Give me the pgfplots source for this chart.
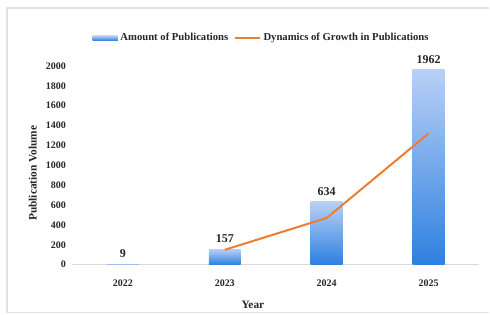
\documentclass[border=0pt]{standalone}
\usepackage{pgfplots}
\pgfplotsset{compat=1.18}
\usepackage{fontspec}
\setmainfont{Liberation Serif}
\definecolor{bartop}{RGB}{185,208,245}
\definecolor{barbot}{RGB}{45,128,224}
\definecolor{lineor}{RGB}{237,125,49}
\definecolor{axgray}{RGB}{217,217,217}
\definecolor{framegray}{RGB}{225,225,225}
\begin{document}
\begin{tikzpicture}
\fill[white] (-54pt,-37.5pt) rectangle (313.5pt,198.75pt);
\draw[framegray, line width=0.8pt] (313.5pt,192.75pt) -- (-48.75pt,192.75pt) -- (-48.75pt,-36pt) -- (313.5pt,-36pt);
\begin{axis}[
  at={(0pt,0pt)}, anchor=south west,
  scale only axis, width=306pt, height=149.25pt,
  xmin=-0.5, xmax=3.5, ymin=0, ymax=2000,
  xtick={0,1,2,3}, xticklabels={2022,2023,2024,2025},
  ytick={0,200,...,2000},
  axis x line*=bottom, axis y line*=left,
  x axis line style={axgray, line width=0.8pt, -},
  y axis line style={draw=none},
  major tick length=0pt,
  clip=false,
  /pgf/number format/1000 sep={},
  /pgf/number format/assume math mode=true,
  ticklabel style={font=\bfseries\fontsize{7.5}{9}\selectfont, text=black!85},
  xticklabel style={yshift=-8pt},
  yticklabel style={xshift=-1pt},
  ylabel={Publication Volume},
  xlabel={Year},
  label style={font=\bfseries\fontsize{8.5}{10}\selectfont, text=black!85},
  ylabel style={at={(axis description cs:-0.096,0.46)}, anchor=center},
  xlabel style={at={(axis description cs:0.444,-0.2)}, anchor=center},
  legend style={at={(axis description cs:0.466,1.14)}, anchor=center, draw=none, fill=none,
    legend columns=2, font=\bfseries\fontsize{8}{9}\selectfont, text=black!85,
    /tikz/every even column/.append style={column sep=2pt}},
  legend cell align=left,
  mybar/.style={ybar, bar width=24pt, bar shift=0pt, draw=none, top color=bartop, bottom color=barbot,
    nodes near coords, nodes near coords style={font=\bfseries\fontsize{9}{10}\selectfont, text=black!85, yshift=1pt}},
]
\addplot[mybar,
  legend image code/.code={\fill[bartop!60!barbot] (0pt,-1.8pt) rectangle (19pt,1.8pt);}]
  coordinates {(0,9)};
\addlegendentry{Amount of Publications}
\addplot[mybar, forget plot] coordinates {(1,157)};
\addplot[mybar, forget plot] coordinates {(2,634)};
\addplot[mybar, forget plot] coordinates {(3,1962)};
\addplot[lineor, line width=1.5pt, line join=round, mark=none,
  legend image code/.code={\draw[lineor, line width=1.5pt] (0pt,0pt) -- (19pt,0pt);}]
  coordinates {(1,150) (2,470) (3,1320)};
\addlegendentry{Dynamics of Growth in Publications}
\end{axis}
\end{tikzpicture}
\end{document}
